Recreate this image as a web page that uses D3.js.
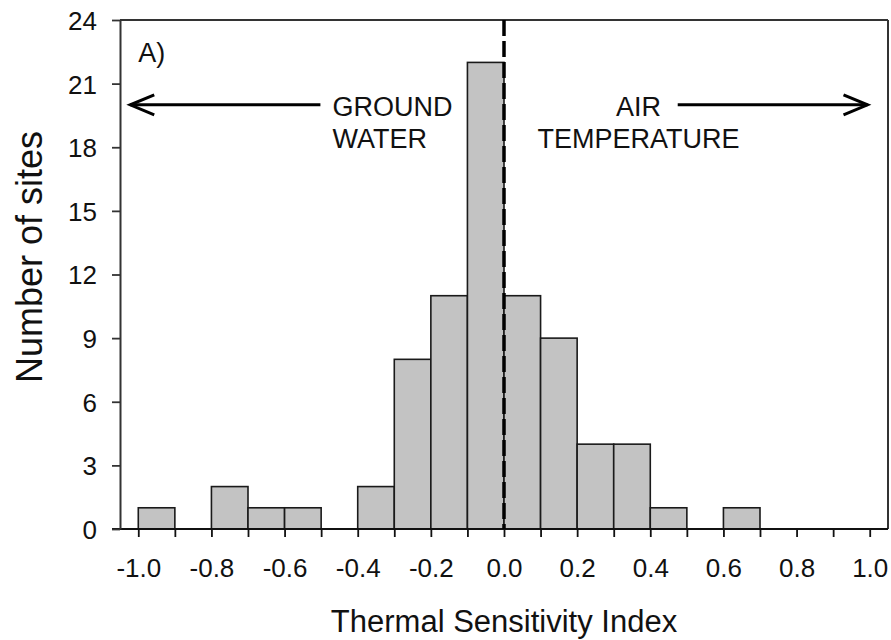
<!DOCTYPE html>
<html>
<head>
<meta charset="utf-8">
<script src="https://cdn.jsdelivr.net/npm/d3@7"></script>
<style>
  html, body { margin: 0; padding: 0; background: #fff; }
  svg { display: block; font-family: Arial, "Liberation Sans", sans-serif; }
</style>
</head>
<body>
<svg id="chart" width="891" height="640"></svg>
<script>
// Histogram bins (lower edge) and counts
const binStarts = [-1.0, -0.9, -0.8, -0.7, -0.6, -0.5, -0.4, -0.3, -0.2, -0.1, 0.0, 0.1, 0.2, 0.3, 0.4, 0.5, 0.6, 0.7, 0.8, 0.9];
const binWidth = 0.1;
const counts =    [1,    0,    2,    1,    1,    0,    2,    8,    11,   22,   11,  9,   4,   4,   1,   0,   1,   0,   0,   0];
const xTickValues = [-1.0, -0.9, -0.8, -0.7, -0.6, -0.5, -0.4, -0.3, -0.2, -0.1, 0.0, 0.1, 0.2, 0.3, 0.4, 0.5, 0.6, 0.7, 0.8, 0.9, 1.0];
const xTickLabels = ["-1.0", "", "-0.8", "", "-0.6", "", "-0.4", "", "-0.2", "", "0.0", "", "0.2", "", "0.4", "", "0.6", "", "0.8", "", "1.0"];
const yTickValues = [0, 3, 6, 9, 12, 15, 18, 21, 24];
const xTitle = "Thermal Sensitivity Index";
const yTitle = "Number of sites";
const panelLabel = "A)";
const leftLabel = ["GROUND", "WATER"];
const rightLabel = ["AIR", "TEMPERATURE"];

const svg = d3.select("#chart");
const L = 120, R = 888, T = 20, B = 529;
const x = d3.scaleLinear().domain([-1.05, 1.05]).range([L, R]);
const y = d3.scaleLinear().domain([0, 24]).range([B, T]);

const ink = "#111";

// bars
const bins = binStarts.map((s, i) => ({ x0: s, x1: s + binWidth, n: counts[i] })).filter(d => d.n > 0);
svg.append("g").selectAll("rect").data(bins).join("rect")
  .attr("x", d => x(d.x0))
  .attr("y", d => y(d.n))
  .attr("width", d => x(d.x1) - x(d.x0))
  .attr("height", d => y(0) - y(d.n))
  .attr("fill", "#c3c3c3")
  .attr("stroke", "#1a1a1a")
  .attr("stroke-width", 1.6);

// frame top & right
svg.append("line").attr("x1", L).attr("x2", R).attr("y1", T).attr("y2", T)
  .attr("stroke", "#333").attr("stroke-width", 2);
svg.append("line").attr("x1", R).attr("x2", R).attr("y1", T).attr("y2", B)
  .attr("stroke", "#333").attr("stroke-width", 2);

// x axis
const xAxis = d3.axisBottom(x).tickValues(xTickValues).tickSize(8).tickSizeOuter(0)
  .tickFormat((d, i) => xTickLabels[i]);
const gx = svg.append("g").attr("transform", `translate(0,${B})`).call(xAxis);
gx.select(".domain").attr("d", `M${L - 8},0H${R}`).attr("stroke", ink).attr("stroke-width", 2);
gx.selectAll(".tick line").attr("stroke", ink).attr("stroke-width", 1.8);
gx.selectAll(".tick text").attr("font-size", 26).attr("fill", "#111")
  .attr("y", 48).attr("dy", null);

// y axis
const yAxis = d3.axisLeft(y).tickValues(yTickValues).tickSize(8).tickSizeOuter(0);
const gy = svg.append("g").attr("transform", `translate(${L},0)`).call(yAxis);
gy.select(".domain").attr("stroke", "#333").attr("stroke-width", 2);
gy.selectAll(".tick line").attr("stroke", "#333").attr("stroke-width", 1.8);
gy.selectAll(".tick text").attr("font-size", 26).attr("fill", "#111")
  .attr("x", -23).attr("dy", "0.36em");

// dashed zero line
svg.append("line").attr("x1", x(0)).attr("x2", x(0)).attr("y1", y(24)).attr("y2", y(0))
  .attr("stroke", "#000").attr("stroke-width", 3.5).attr("stroke-dasharray", "16,5");

// axis titles
svg.append("text").attr("x", (x(-1.0) + x(1.0)) / 2).attr("y", 632)
  .attr("text-anchor", "middle").attr("font-size", 31).attr("fill", "#111").text(xTitle);
svg.append("text").attr("transform", `translate(42,257) rotate(-90)`)
  .attr("text-anchor", "middle").attr("font-size", 36).attr("fill", "#111").text(yTitle);

// panel label
svg.append("text").attr("x", x(-1.0)).attr("y", y(22.0)).attr("font-size", 27).attr("fill", "#111").text(panelLabel);

// annotations
const annSize = 27;
svg.append("text").attr("x", x(-0.469)).attr("y", y(19.48)).attr("font-size", annSize).attr("fill", "#111").text(leftLabel[0]);
svg.append("text").attr("x", x(-0.469)).attr("y", y(17.97)).attr("font-size", annSize).attr("fill", "#111").text(leftLabel[1]);
svg.append("text").attr("x", x(0.368)).attr("y", y(19.48)).attr("text-anchor", "middle").attr("font-size", annSize).attr("fill", "#111").text(rightLabel[0]);
svg.append("text").attr("x", x(0.368)).attr("y", y(17.97)).attr("text-anchor", "middle").attr("font-size", annSize).attr("fill", "#111").text(rightLabel[1]);

// arrows
const ay = y(20.0);
function arrow(xFrom, xTo) {
  const dir = Math.sign(xTo - xFrom);
  svg.append("line").attr("x1", x(xFrom)).attr("x2", x(xTo)).attr("y1", ay).attr("y2", ay)
    .attr("stroke", "#000").attr("stroke-width", 3);
  const tip = x(xTo);
  svg.append("path")
    .attr("d", `M${tip - dir * 24},${ay - 10}L${tip},${ay}L${tip - dir * 24},${ay + 10}`)
    .attr("fill", "none").attr("stroke", "#000").attr("stroke-width", 3).attr("stroke-linejoin", "miter");
}
arrow(-0.502, -1.022);
arrow(0.475, 0.994);
</script>
</body>
</html>
